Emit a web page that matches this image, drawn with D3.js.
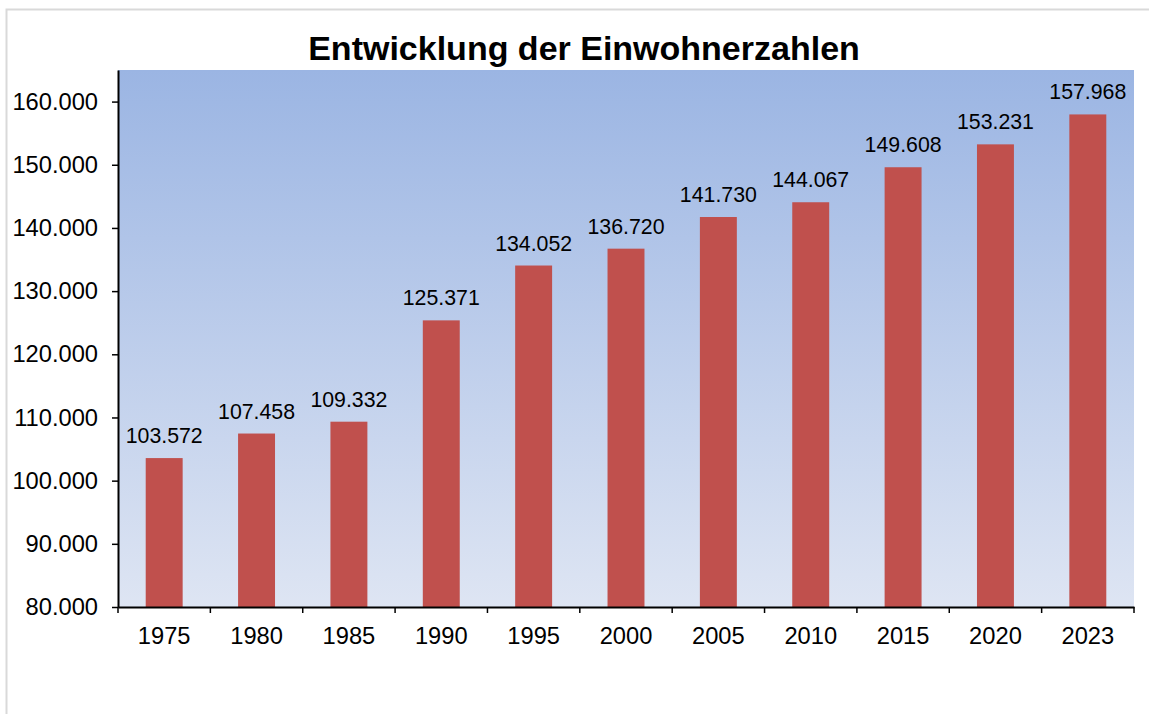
<!DOCTYPE html>
<html>
<head>
<meta charset="utf-8">
<script src="https://cdn.jsdelivr.net/npm/d3@7"></script>
<style>
  html, body { margin: 0; padding: 0; background: #fff; }
  svg { display: block; font-family: "Liberation Sans", Arial, sans-serif; }
</style>
</head>
<body>
<svg id="chart" width="1149" height="714"></svg>
<script>
const title = "Entwicklung der Einwohnerzahlen";
const years = ["1975", "1980", "1985", "1990", "1995", "2000", "2005", "2010", "2015", "2020", "2023"];
const population = [103572, 107458, 109332, 125371, 134052, 136720, 141730, 144067, 149608, 153231, 157968];
const yTicks = [80000, 90000, 100000, 110000, 120000, 130000, 140000, 150000, 160000];

(function () {
const svg = d3.select("#chart");
const pLeft = 118, pRight = 1134, pTop = 70, pBottom = 607;

const fmt = v => d3.format(",")(v).replace(/,/g, ".");

// outer border
svg.append("rect")
  .attr("x", 6.5).attr("y", 9.5)
  .attr("width", 1170).attr("height", 730)
  .attr("fill", "#fff").attr("stroke", "#d9d9d9").attr("stroke-width", 2);

// gradient
const defs = svg.append("defs");
const grad = defs.append("linearGradient").attr("id", "bg")
  .attr("x1", 0).attr("y1", 0).attr("x2", 0).attr("y2", 1);
grad.append("stop").attr("offset", "0%").attr("stop-color", "rgb(155,181,227)");
grad.append("stop").attr("offset", "100%").attr("stop-color", "rgb(222,229,243)");

const x = d3.scaleBand().domain(years).range([pLeft, pRight]).paddingInner(0.6).paddingOuter(0.3);
const xOuter = d3.scaleBand().domain(years).range([pLeft, pRight]);
const y = d3.scaleLinear().domain([80000, 165000]).range([pBottom, pTop]);

svg.append("rect")
  .attr("x", pLeft).attr("y", pTop)
  .attr("width", pRight - pLeft).attr("height", pBottom - pTop)
  .attr("fill", "url(#bg)");

// title
svg.append("text")
  .attr("x", 584).attr("y", 60)
  .attr("text-anchor", "middle")
  .attr("font-size", 34).attr("font-weight", "bold")
  .attr("fill", "#000")
  .text(title);

// bars
svg.selectAll("rect.bar").data(population).join("rect")
  .attr("class", "bar")
  .attr("x", (d, i) => x(years[i]))
  .attr("width", x.bandwidth())
  .attr("y", d => y(d))
  .attr("height", d => y(80000) - y(d))
  .attr("fill", "#c0504d");

// data labels
svg.selectAll("text.lbl").data(population).join("text")
  .attr("class", "lbl")
  .attr("x", (d, i) => x(years[i]) + x.bandwidth() / 2)
  .attr("y", d => y(d) - 15)
  .attr("text-anchor", "middle")
  .attr("font-size", 21.3)
  .attr("fill", "#000")
  .text(d => fmt(d));

// y axis
const yAxis = d3.axisLeft(y).tickValues(yTicks).tickFormat(fmt).tickSize(6).tickPadding(14).tickSizeOuter(0);
const gy = svg.append("g").attr("transform", `translate(${pLeft},0)`).call(yAxis);
gy.select(".domain").attr("stroke", "#000").attr("stroke-width", 2);
gy.selectAll(".tick line").attr("stroke", "#000").attr("stroke-width", 1.5);
gy.selectAll(".tick text").attr("font-size", 23.7).attr("fill", "#000")
  .attr("font-family", "Liberation Sans, Arial, sans-serif");

// x axis
const gx = svg.append("g").attr("transform", `translate(0,${pBottom})`)
  .call(d3.axisBottom(xOuter).tickSize(0).tickPadding(20.2).tickSizeOuter(0));
gx.select(".domain").attr("stroke", "#000").attr("stroke-width", 2);
gx.selectAll(".tick text").attr("font-size", 23.7).attr("fill", "#000")
  .attr("font-family", "Liberation Sans, Arial, sans-serif");

// category boundary ticks
const boundaries = years.map(yr => xOuter(yr)).concat([pRight]);
svg.append("g").selectAll("line").data(boundaries).join("line")
  .attr("x1", d => d).attr("x2", d => d)
  .attr("y1", pBottom).attr("y2", pBottom + 6)
  .attr("stroke", "#000").attr("stroke-width", 1.5);
})();
</script>
</body>
</html>
